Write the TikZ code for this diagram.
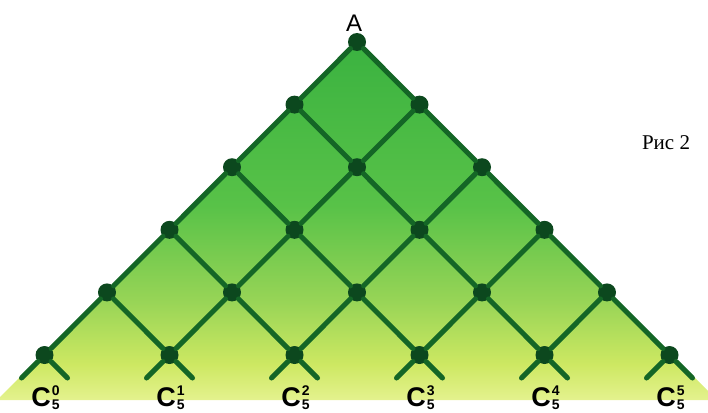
\documentclass[tikz,border=0pt]{standalone}
\usepackage{fontspec}
\setmainfont{Liberation Serif}
\newfontfamily\labelfont{Liberation Sans}
\usetikzlibrary{positioning}
\definecolor{leafgreen}{RGB}{58,178,64}
\definecolor{midgreen}{RGB}{88,194,72}
\definecolor{limegreen}{RGB}{150,212,86}
\definecolor{paleyellow}{RGB}{205,232,98}
\definecolor{paleedge}{RGB}{228,242,142}
\definecolor{linegreen}{RGB}{20,102,38}
\definecolor{knotgreen}{RGB}{12,72,30}
\pgfdeclareverticalshading{leafshade}{100bp}{color(0bp)=(paleedge); color(25bp)=(paleedge);
  color(30bp)=(paleyellow); color(39bp)=(limegreen); color(52bp)=(midgreen);
  color(75bp)=(leafgreen); color(100bp)=(leafgreen)}
\tikzset{
  knot/.style={circle, fill=knotgreen, minimum size=18pt, inner sep=0pt},
  lattice/.style={draw=linegreen, line width=5pt, line cap=round},
  binom/.style={font=\labelfont\bfseries\fontsize{27}{28}\selectfont, anchor=base, inner sep=0pt},
}
\newcommand{\cfive}[1]{C\kern1pt\rlap{\raisebox{11pt}{\fontsize{14}{14}\selectfont #1}}\raisebox{-3pt}{\fontsize{14}{14}\selectfont 5}}

\begin{document}
\begin{tikzpicture}[x=1pt,y=-1pt]
\useasboundingbox (0,0) rectangle (708,412);

% coloured triangle
\begin{scope}
\clip (0,0) rectangle (708,412);
\shade[shading=leafshade] (357,40) -- (-3,400) -- (717,400) -- cycle;
\end{scope}

% knots of the lattice
\foreach \k in {0,...,5}
  \foreach \j in {0,...,\k}
    \node[knot] (n-\k-\j) at ({357+62.5*(2*\j-\k)},{42+62.6*\k}) {};

% lattice lines
\foreach \k in {0,...,4} {
  \pgfmathtruncatemacro{\kk}{\k+1}
  \foreach \j in {0,...,\k} {
    \pgfmathtruncatemacro{\jj}{\j+1}
    \draw[lattice] (n-\k-\j) -- (n-\kk-\j);
    \draw[lattice] (n-\k-\j) -- (n-\kk-\jj);
  }
}

% short feet below the last row
\foreach \j in {0,...,5} {
  \coordinate (foot-\j-l) at ({357+62.5*(2*\j-5)-23},378);
  \coordinate (foot-\j-r) at ({357+62.5*(2*\j-5)+23},378);
  \draw[lattice] (n-5-\j) -- (foot-\j-l);
  \draw[lattice] (n-5-\j) -- (foot-\j-r);
  \node[binom] (c-\j) at ({357+62.5*(2*\j-5)+1},406) {\cfive{\j}};
}

\node[font=\labelfont\fontsize{24}{24}\selectfont, above=0pt of n-0-0, xshift=-3pt, yshift=-2pt] (apex) {A};

\node[font=\fontsize{21}{22}\selectfont] (fig) at (666,143) {Рис 2};

\end{tikzpicture}
\end{document}
